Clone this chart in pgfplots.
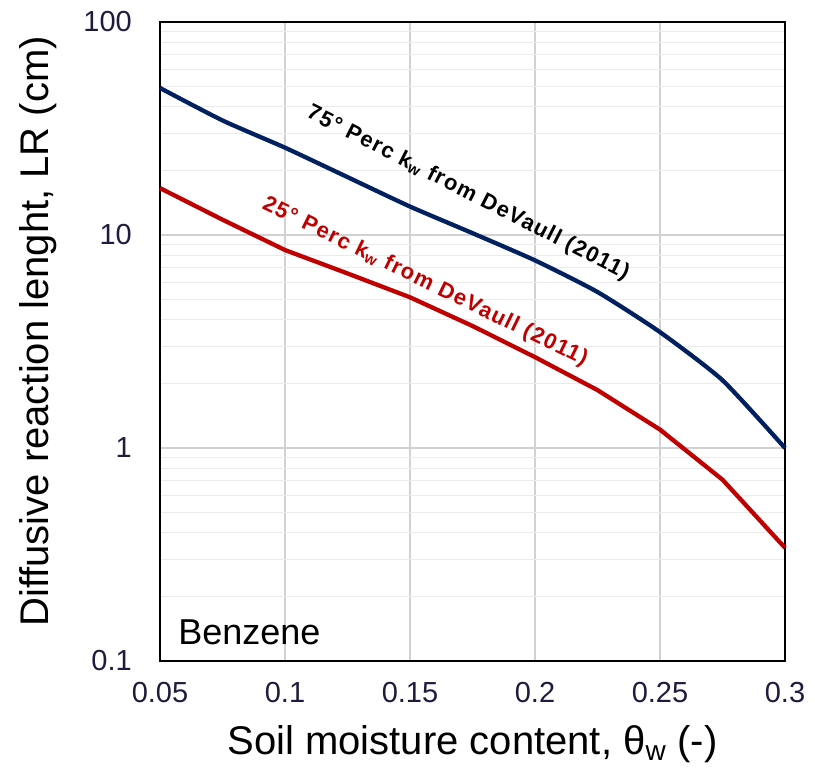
\documentclass[border=0pt]{standalone}
\usepackage{fontspec}
\setmainfont{Liberation Sans}
\usepackage{pgfplots}
\pgfplotsset{compat=1.18}
\definecolor{navy}{HTML}{002060}
\definecolor{dred}{HTML}{C00000}
\definecolor{tickc}{HTML}{1E1B3C}
\begin{document}
\begin{tikzpicture}
\begin{axis}[name=ax,
  scale only axis, width=625bp, height=639bp,
  xmin=0.05, xmax=0.3, ymode=log, ymin=0.1, ymax=100,
  xtick={0.05,0.1,0.15,0.2,0.25,0.3},
  xticklabels={0.05,0.1,0.15,0.2,0.25,0.3},
  ytick={0.1,1,10,100}, yticklabels={0.1,1,10,100},
  /pgf/number format/assume math mode=true,
  ticklabel style={font=\fontsize{29bp}{31bp}\selectfont, text=tickc, inner sep=0pt},
  xticklabel style={anchor=north, yshift=-21bp},
  yticklabel style={anchor=east, xshift=-28bp},
  major tick length=0pt, minor tick length=0pt,
  grid=both,
  major grid style={draw=black!18, line width=1.2bp},
  minor grid style={draw=black!8, line width=1bp},
  axis line style={black, line width=1.5bp},
  xlabel={Soil moisture content, θ\textsubscript{w} (-)},
  ylabel={Diffusive reaction lenght, LR (cm)},
  label style={font=\fontsize{40bp}{42bp}\selectfont, inner sep=0pt},
  xlabel style={at={(axis description cs:0.5,-0.1)}, anchor=north},
  ylabel style={at={(axis description cs:-0.165,0.516)}, anchor=south, rotate=0},
  clip=false,
]
\addplot[navy, line width=4.3bp, smooth, tension=0.35] coordinates {
 (0.05,49) (0.075,34.5) (0.1,25.7) (0.125,18.7) (0.15,13.6) (0.175,10.2)
 (0.2,7.6) (0.225,5.4) (0.25,3.5) (0.275,2.08) (0.3,1.0)};
\addplot[dred, line width=4.3bp] coordinates {
 (0.05,16.6) (0.075,11.8) (0.1,8.5) (0.125,6.6) (0.15,5.1) (0.175,3.74)
 (0.2,2.67) (0.225,1.87) (0.25,1.22) (0.275,0.71) (0.3,0.34)};
\node[rotate=-27, text=black, font=\fontsize{22bp}{24bp}\selectfont\bfseries\addfontfeature{LetterSpace=6}] at (axis cs:0.1732,15.7) {75° Perc k\textsubscript{w} from DeVaull (2011)};
\node[rotate=-26, text=dred, font=\fontsize{22bp}{24bp}\selectfont\bfseries\addfontfeature{LetterSpace=6}] at (axis cs:0.156,6.0) {25° Perc k\textsubscript{w} from DeVaull (2011)};
\node[anchor=west, inner sep=0pt, font=\fontsize{36bp}{38bp}\selectfont] at (axis description cs:0.029,0.045) {Benzene};
\end{axis}
\pgfresetboundingbox
\path ([shift={(-160bp,-109bp)}]ax.south west) rectangle ([shift={(30bp,22bp)}]ax.north east);
\end{tikzpicture}
\end{document}
